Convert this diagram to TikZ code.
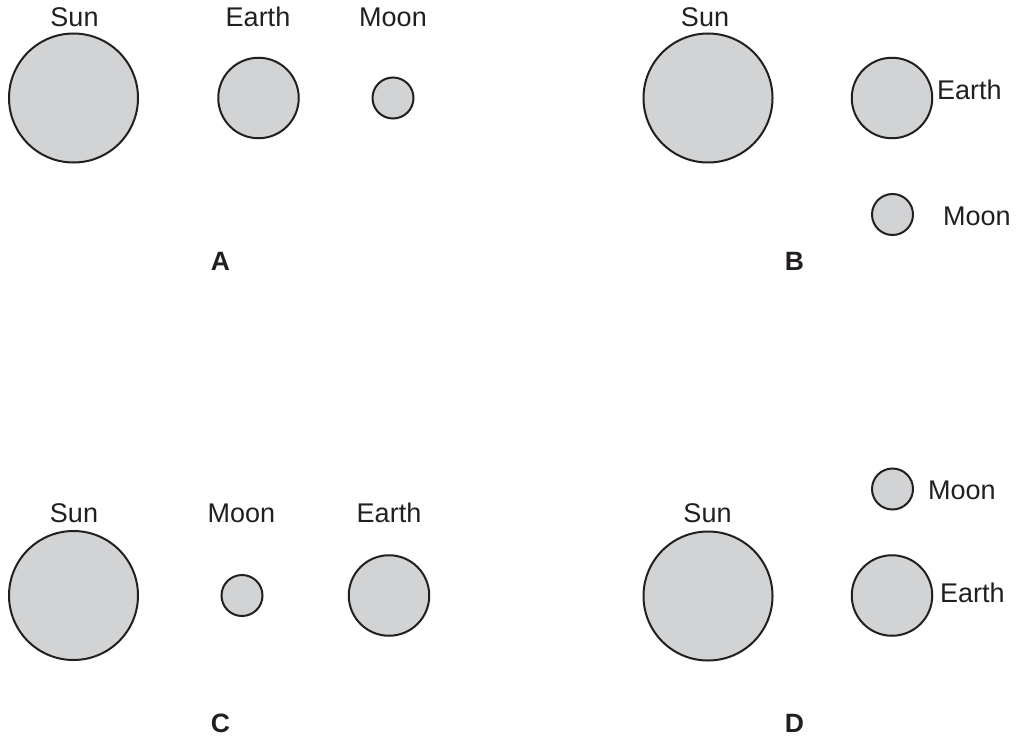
\documentclass[tikz,border=0pt]{standalone}
\usepackage{fontspec}
\setmainfont{Liberation Sans}
\definecolor{body}{RGB}{209,211,212}
\definecolor{ink}{RGB}{35,31,32}
\tikzset{
  body/.style={circle, draw=ink, fill=body, line width=2pt, inner sep=0pt},
  sun/.style={body, minimum size=129pt},
  earth/.style={body, minimum size=80.5pt},
  moon/.style={body, minimum size=41pt},
  lbl/.style={inner sep=0pt, text=ink, font=\fontsize{27}{32}\selectfont},
  opt/.style={inner sep=0pt, text=ink, font=\fontsize{26.5}{30}\selectfont\bfseries, anchor=base}
}
\begin{document}
\begin{tikzpicture}[x=1pt,y=-1pt]
\useasboundingbox[fill=white] (0,0) rectangle (1016,738);
% Panel A
\node[sun]   (sunA)   at (73.5,98) {};
\node[earth] (earthA) at (258.5,98) {};
\node[moon]  (moonA)  at (393,98) {};
\node[lbl, anchor=base] (sunAl)   at (74.5,27) {Sun};
\node[lbl, anchor=base] (earthAl) at (258,27) {Earth};
\node[lbl, anchor=base] (moonAl)  at (393,27) {Moon};
\node[opt] (labA) at (220.5,270) {A};
% Panel B
\node[sun]   (sunB)   at (708,98) {};
\node[earth] (earthB) at (892,98) {};
\node[moon]  (moonB)  at (892.5,214.5) {};
\node[lbl, anchor=base] (sunBl) at (705,27) {Sun};
\node[lbl, anchor=base west] (earthBl) at (937,100) {Earth};
\node[lbl, anchor=base west] (moonBl)  at (943,225) {Moon};
\node[opt] (labB) at (794.5,270) {B};
% Panel C
\node[sun]   (sunC)   at (73.5,595.5) {};
\node[moon]  (moonC)  at (242,595.5) {};
\node[earth] (earthC) at (389,595.5) {};
\node[lbl, anchor=base] (sunCl)   at (74,522) {Sun};
\node[lbl, anchor=base] (moonCl)  at (241.5,522) {Moon};
\node[lbl, anchor=base] (earthCl) at (389,522) {Earth};
\node[opt] (labC) at (220.5,732) {C};
% Panel D
\node[sun]   (sunD)   at (708,596) {};
\node[earth] (earthD) at (892,595.5) {};
\node[moon]  (moonD)  at (892.5,489) {};
\node[lbl, anchor=base] (sunDl) at (707.5,522) {Sun};
\node[lbl, anchor=base west] (moonDl)  at (928,499) {Moon};
\node[lbl, anchor=base west] (earthDl) at (940,602) {Earth};
\node[opt] (labD) at (794.5,732) {D};
\end{tikzpicture}
\end{document}
